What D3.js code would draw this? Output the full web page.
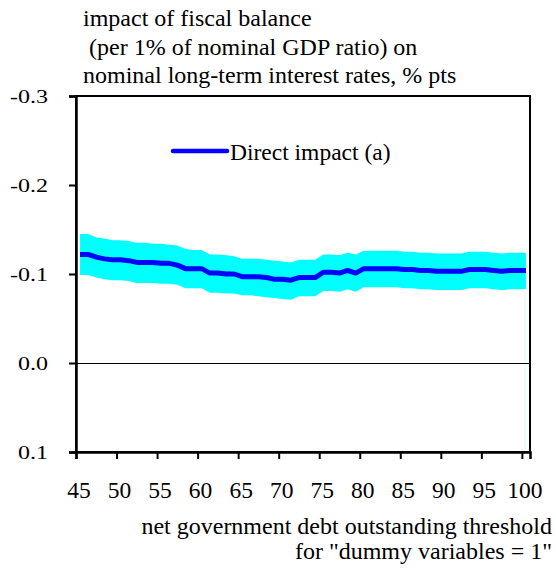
<!DOCTYPE html>
<html>
<head>
<meta charset="utf-8">
<script src="https://cdn.jsdelivr.net/npm/d3@7"></script>
<style>
  html, body { margin: 0; padding: 0; background: #fff; }
  svg { display: block; }
</style>
</head>
<body>
<svg id="chart" width="556" height="572"></svg>
<script>
// ---- data ----
const thresholds = d3.range(45, 101); // 45..100
const directImpact = [
  -0.122, -0.122, -0.119, -0.117, -0.116, -0.116, -0.115, -0.113, -0.113, -0.113,
  -0.112, -0.112, -0.110, -0.106, -0.106, -0.106, -0.101, -0.101, -0.100, -0.100,
  -0.097, -0.097, -0.097, -0.096, -0.094, -0.094, -0.093, -0.096, -0.096, -0.096,
  -0.102, -0.102, -0.101, -0.104, -0.101, -0.106, -0.106, -0.106, -0.106, -0.106,
  -0.105, -0.105, -0.104, -0.104, -0.103, -0.103, -0.103, -0.103, -0.105, -0.105,
  -0.105, -0.104, -0.103, -0.104, -0.104, -0.104
];
const bandUpper = [
  -0.145, -0.145, -0.141, -0.140, -0.138, -0.138, -0.137, -0.135, -0.135, -0.134,
  -0.134, -0.133, -0.132, -0.128, -0.127, -0.127, -0.122, -0.122, -0.121, -0.120,
  -0.117, -0.117, -0.117, -0.116, -0.115, -0.114, -0.113, -0.116, -0.116, -0.116,
  -0.122, -0.122, -0.121, -0.124, -0.122, -0.126, -0.126, -0.126, -0.126, -0.126,
  -0.125, -0.125, -0.124, -0.124, -0.123, -0.123, -0.123, -0.123, -0.125, -0.125,
  -0.125, -0.124, -0.123, -0.124, -0.124, -0.124
];
const bandLower = [
  -0.099, -0.099, -0.096, -0.094, -0.093, -0.093, -0.092, -0.090, -0.090, -0.090,
  -0.089, -0.089, -0.088, -0.084, -0.084, -0.084, -0.079, -0.079, -0.078, -0.078,
  -0.076, -0.076, -0.075, -0.074, -0.073, -0.072, -0.071, -0.075, -0.075, -0.075,
  -0.081, -0.081, -0.080, -0.083, -0.080, -0.085, -0.085, -0.085, -0.085, -0.085,
  -0.084, -0.084, -0.083, -0.083, -0.082, -0.082, -0.082, -0.082, -0.084, -0.084,
  -0.084, -0.083, -0.082, -0.083, -0.083, -0.083
];
const xTickValues = [45, 50, 55, 60, 65, 70, 75, 80, 85, 90, 95, 100];
const yTickValues = [-0.3, -0.2, -0.1, 0.0, 0.1];
const yTickLabels = ["-0.3", "-0.2", "-0.1", "0.0", "0.1"];
const titleLines = [
  "impact of fiscal balance",
  " (per 1% of nominal GDP ratio) on",
  "nominal long-term interest rates, % pts"
];
const xTitleLines = [
  "net government debt outstanding threshold",
  "for \"dummy variables = 1\""
];
const legendLabel = "Direct impact (a)";

// pick an installed serif face (falls back gracefully)
function pickFont(cands) {
  const c = document.createElement("canvas").getContext("2d");
  const probe = "impact of fiscal balance 0123456789 mmmWWiil";
  for (const f of cands) {
    let found = false;
    for (const base of ["monospace", "sans-serif"]) {
      c.font = `24px ${base}`;
      const w0 = c.measureText(probe).width;
      c.font = `24px "${f}", ${base}`;
      const w1 = c.measureText(probe).width;
      if (Math.abs(w1 - w0) > 0.5) { found = true; } else { found = false; break; }
    }
    if (found) return `"${f}"`;
  }
  return "serif";
}
const FONT = pickFont(["Liberation Serif", "Tinos", "Times New Roman", "Times",
                       "DejaVu Serif", "Noto Serif", "FreeSerif", "Nimbus Roman"]) + ", serif";

// ---- layout ----
const svg = d3.select("#chart");
const plot = { left: 76, right: 530, top: 96, bottom: 452 };

const x = d3.scaleLinear().domain([45, 101]).range([plot.left, plot.right]);
const y = d3.scaleLinear().domain([-0.3, 0.1]).range([plot.top, plot.bottom]);

const rows = thresholds.map((t, i) => ({
  t, v: directImpact[i], hi: bandUpper[i], lo: bandLower[i]
}));

// band
svg.append("path")
  .datum(rows)
  .attr("fill", "#00ffff")
  .attr("d", d3.area()
    .x(d => x(d.t + 0.5))
    .y0(d => y(d.lo))
    .y1(d => y(d.hi)));

// faint right edge artifact
const last = rows[rows.length - 1];
svg.append("line")
  .attr("x1", x(last.t + 0.5) - 1).attr("x2", x(last.t + 0.5) - 1)
  .attr("y1", y(last.lo)).attr("y2", y(0.1))
  .attr("stroke", "#d6fbfb").attr("stroke-width", 1);

// zero line
const y0 = Math.round(y(0)) + 0.5;
svg.append("line")
  .attr("x1", plot.left).attr("x2", plot.right)
  .attr("y1", y0).attr("y2", y0)
  .attr("stroke", "#000").attr("stroke-width", 1.2);

// main line
svg.append("path")
  .datum(rows)
  .attr("fill", "none")
  .attr("stroke", "#0000ff")
  .attr("stroke-width", 5)
  .attr("stroke-linejoin", "round")
  .attr("d", d3.line().x(d => x(d.t + 0.5)).y(d => y(d.v)));

// frame
svg.append("rect")
  .attr("x", plot.left).attr("y", plot.top)
  .attr("width", plot.right - plot.left).attr("height", plot.bottom - plot.top)
  .attr("fill", "none").attr("stroke", "#000").attr("stroke-width", 2);

// y axis
const yAxis = d3.axisLeft(y).tickValues(yTickValues).tickSize(7).tickFormat("");
const gy = svg.append("g").attr("transform", `translate(${plot.left},0)`).call(yAxis);
gy.select(".domain").attr("stroke-width", 2.5);
gy.selectAll(".tick line").attr("stroke-width", 2);
yTickValues.forEach((v, i) => {
  svg.append("text")
    .attr("transform", `translate(48,${y(v) + 6.5}) scale(1.3,1)`)
    .attr("text-anchor", "end")
    .attr("font-family", FONT)
    .attr("font-size", 18.5)
    .text(yTickLabels[i]);
});

// x axis
const xAxis = d3.axisBottom(x).tickValues(xTickValues).tickSize(7).tickFormat("");
const gx = svg.append("g").attr("transform", `translate(0,${plot.bottom})`).call(xAxis);
gx.select(".domain").attr("stroke-width", 2.5);
gx.selectAll(".tick line").attr("stroke-width", 2);
xTickValues.forEach(v => {
  svg.append("text")
    .attr("x", x(v) + 3)
    .attr("y", 498)
    .attr("text-anchor", "middle")
    .attr("font-family", FONT)
    .attr("font-size", 23.5)
    .text(v);
});

// titles
titleLines.forEach((t, i) => {
  svg.append("text")
    .attr("x", 83).attr("y", 26 + i * 28.5)
    .attr("font-family", FONT)
    .attr("font-size", 24)
    .style("white-space", "pre")
    .text(t);
});
xTitleLines.forEach((t, i) => {
  svg.append("text")
    .attr("x", 552).attr("y", 534 + i * 25)
    .attr("text-anchor", "end")
    .attr("font-family", FONT)
    .attr("font-size", 24)
    .text(t);
});

// legend
svg.append("line")
  .attr("x1", 173).attr("x2", 227)
  .attr("y1", 151).attr("y2", 151)
  .attr("stroke", "#0000ff").attr("stroke-width", 4.5)
  .attr("stroke-linecap", "round");
svg.append("text")
  .attr("x", 230).attr("y", 160)
  .attr("font-family", FONT)
  .attr("font-size", 23.5)
  .text(legendLabel);
</script>
</body>
</html>
